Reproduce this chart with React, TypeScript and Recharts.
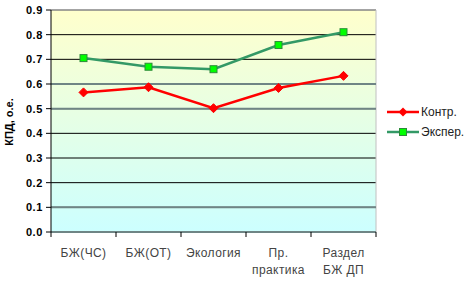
import React from "react";
import {
  LineChart,
  Line,
  XAxis,
  YAxis,
  CartesianGrid,
  ReferenceLine,
  Label,
} from "recharts";

const categories = ["БЖ(ЧС)", "БЖ(ОТ)", "Экология", "Пр.\nпрактика", "Раздел\nБЖ ДП"];
const kontr = [0.566, 0.587, 0.502, 0.584, 0.633];
const eksper = [0.705, 0.67, 0.66, 0.758, 0.81];
const yTicks = [0, 0.1, 0.2, 0.3, 0.4, 0.5, 0.6, 0.7, 0.8, 0.9];
const grayLines = [0.1, 0.5, 0.6];
const seriesNames = { kontr: "Контр.", eksper: "Экспер." };

const data = categories.map((c, i) => ({ cat: c, kontr: kontr[i], eksper: eksper[i] }));

const FONT = "'Liberation Sans', Arial, sans-serif";
const RED = "#ff0000";
const GREEN_LINE = "#339966";
const GREEN_FILL = "#00ff00";
const HALF = 32.5;

const XTick = (props: any) => {
  const { x, y, payload, index } = props;
  const lines = String(payload.value).split("\n");
  const last = index === categories.length - 1;
  return (
    <g>
      <line x1={x - HALF} x2={x - HALF} y1={y} y2={y + 5} stroke="#000" />
      {last && <line x1={x + HALF} x2={x + HALF} y1={y} y2={y + 5} stroke="#000" />}
      {lines.map((l, i) => (
        <text
          key={i}
          x={x}
          y={y + 25 + i * 17}
          textAnchor="middle"
          fontFamily={FONT}
          fontSize={12}
          letterSpacing={0.4}
          fill="#444"
        >
          {l}
        </text>
      ))}
    </g>
  );
};

const Diamond = (props: any) => {
  const { cx, cy } = props;
  if (cx == null || cy == null) return null;
  const r = 4.5;
  return (
    <path
      d={`M${cx},${cy - r} L${cx + r},${cy} L${cx},${cy + r} L${cx - r},${cy} Z`}
      fill={RED}
      stroke={RED}
    />
  );
};

const Square = (props: any) => {
  const { cx, cy } = props;
  if (cx == null || cy == null) return null;
  return <rect x={cx - 3.5} y={cy - 3.5} width={7} height={7} fill={GREEN_FILL} stroke="#2c8a3a" strokeWidth={1} />;
};

const LegendBox = () => (
  <div style={{ position: "absolute", left: 387, top: 102, width: 82, fontFamily: FONT, fontSize: 12, color: "#222" }}>
    <div style={{ display: "flex", alignItems: "center", height: 20 }}>
      <svg width={32} height={10}>
        <line x1={0} x2={32} y1={5} y2={5} stroke={RED} strokeWidth={2.5} />
        <path d="M16,0.5 L20.5,5 L16,9.5 L11.5,5 Z" fill={RED} />
      </svg>
      <span style={{ marginLeft: 2 }}>{seriesNames.kontr}</span>
    </div>
    <div style={{ display: "flex", alignItems: "center", height: 20 }}>
      <svg width={32} height={10}>
        <line x1={0} x2={32} y1={5} y2={5} stroke={GREEN_LINE} strokeWidth={2.5} />
        <rect x={12.5} y={1.5} width={7} height={7} fill={GREEN_FILL} stroke="#2c8a3a" />
      </svg>
      <span style={{ marginLeft: 2 }}>{seriesNames.eksper}</span>
    </div>
  </div>
);

export default function App() {
  return (
    <div style={{ position: "absolute", left: 0, top: 0, width: 469, height: 281, background: "#fff" }}>
      <LineChart width={469} height={281} data={data} margin={{ top: 10, right: 93, bottom: 0, left: 0 }}>
        <defs>
          <linearGradient id="bg" x1="0" y1="0" x2="0" y2="1">
            <stop offset="0%" stopColor="#ffffcc" />
            <stop offset="100%" stopColor="#ccffff" />
          </linearGradient>
        </defs>
        <CartesianGrid vertical={false} stroke="#000" fill="url(#bg)" fillOpacity={1} />
        <CartesianGrid
          horizontal={false}
          stroke="#c0c0c0"
          verticalCoordinatesGenerator={({ offset }: any) => [offset.left + offset.width]}
        />
        {grayLines.map((v) => (
          <ReferenceLine key={v} y={v} stroke="#6f8585" strokeWidth={2} />
        ))}
        <ReferenceLine y={0.9} stroke="#c8c8c8" strokeWidth={1} />
        <XAxis
          dataKey="cat"
          interval={0}
          padding={{ left: HALF, right: HALF }}
          height={49}
          tickSize={0}
          tickMargin={0}
          axisLine={{ stroke: "#6f8585", strokeWidth: 2 }}
          tick={<XTick />}
        />
        <YAxis
          domain={[0, 0.9]}
          ticks={yTicks}
          width={51}
          tickSize={5}
          tickMargin={3}
          interval={0}
          axisLine={{ stroke: "#000" }}
          tickLine={{ stroke: "#000" }}
          tickFormatter={(v: number) => v.toFixed(1)}
          tick={{ fontFamily: FONT, fontSize: 11, fontWeight: "bold", fill: "#000", letterSpacing: 0.6 }}
        >
          <Label
            content={() => (
              <text
                x={13}
                y={122}
                transform="rotate(-90 13 122)"
                textAnchor="middle"
                fontFamily={FONT}
                fontSize={11}
                fontWeight="bold"
                fill="#000"
              >
                КПД, о.е.
              </text>
            )}
          />
        </YAxis>
        <Line
          dataKey="kontr"
          name={seriesNames.kontr}
          stroke={RED}
          strokeWidth={2.5}
          dot={<Diamond />}
          isAnimationActive={false}
        />
        <Line
          dataKey="eksper"
          name={seriesNames.eksper}
          stroke={GREEN_LINE}
          strokeWidth={2.5}
          dot={<Square />}
          isAnimationActive={false}
        />
      </LineChart>
      <LegendBox />
    </div>
  );
}
